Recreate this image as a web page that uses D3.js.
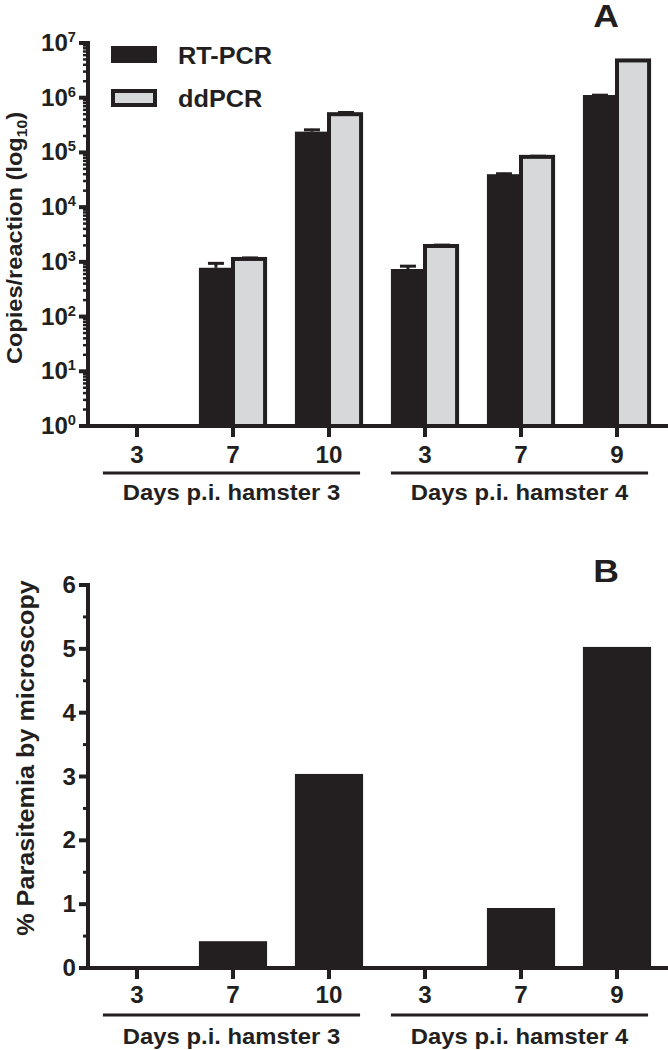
<!DOCTYPE html>
<html>
<head>
<meta charset="utf-8">
<script src="https://cdn.jsdelivr.net/npm/d3@7"></script>
<style>
  html, body { margin: 0; padding: 0; background: #fff; }
  svg { display: block; }
  text { font-family: "Liberation Sans", Arial, Helvetica, sans-serif; font-weight: bold; fill: #231f20; }
</style>
</head>
<body>
<div id="chart"></div>
<script>
// ---------- data ----------
const categories = ["h3-3", "h3-7", "h3-10", "h4-3", "h4-7", "h4-9"];
const dayLabels = ["3", "7", "10", "3", "7", "9"];
const groupNames = ["Days p.i. hamster 3", "Days p.i. hamster 4"];
const groupMembers = [["h3-3", "h3-7", "h3-10"], ["h4-3", "h4-7", "h4-9"]];
const seriesNames = ["RT-PCR", "ddPCR"];
const rtpcrValues = [0, 780, 240000, 740, 40000, 1120000];
const rtpcrErrors = [0, 200, 30000, 130, 2500, 40000];
const ddpcrValues = [0, 1130, 500000, 1950, 83000, 4800000];
const ddpcrErrors = [0, 100, 60000, 160, 6000, 0];
const logTicks = [1, 10, 100, 1000, 10000, 100000, 1000000, 10000000];
const parasitemia = [0, 0.42, 3.04, 0, 0.94, 5.03];
const parasitemiaTicks = [0, 1, 2, 3, 4, 5, 6];

// ---------- setup ----------
const W = 668, H = 1050;
const INK = "#231f20", GRAY = "#d7d8da";
const svg = d3.select("#chart").append("svg").attr("width", W).attr("height", H);

function label(parent, x, y, str, size, anchor, rot, sx) {
  return parent.append("text")
    .attr("transform", `translate(${x},${y}) rotate(${rot || 0}) scale(${sx || 1.05},1)`)
    .attr("text-anchor", anchor || "middle")
    .style("font-size", size + "px")
    .text(str);
}

const x0 = d3.scaleBand().domain(categories).range([89, 665]).paddingInner(0.29).paddingOuter(0.145);
const x1 = d3.scaleBand().domain(seriesNames).range([0, x0.bandwidth()]);

function xAxisParts(g, axisY, tickLabelY, underlineY, groupLabelY) {
  g.append("line").attr("x1", 86).attr("x2", 668).attr("y1", axisY).attr("y2", axisY)
    .attr("stroke", INK).attr("stroke-width", 4);
  const ax = d3.axisBottom(x0).tickSize(11).tickFormat("");
  const ag = g.append("g").attr("transform", `translate(0,${axisY})`).call(ax);
  ag.select(".domain").remove();
  ag.selectAll(".tick line").attr("stroke", INK).attr("stroke-width", 4);
  categories.forEach((c, i) => {
    label(g, x0(c) + x0.bandwidth() / 2, tickLabelY, dayLabels[i], 23, "middle", 0, 1.05);
  });
  groupMembers.forEach((mem, gi) => {
    const a = x0(mem[0]), b = x0(mem[mem.length - 1]) + x0.bandwidth() - 3;
    g.append("line").attr("x1", a).attr("x2", b).attr("y1", underlineY).attr("y2", underlineY)
      .attr("stroke", INK).attr("stroke-width", 3);
    label(g, (a + b) / 2, groupLabelY, groupNames[gi], 22.5, "middle", 0, 1.06);
  });
}

// ---------- Panel A ----------
const gA = svg.append("g");
const yA = d3.scaleLog().domain([1, 1e7]).range([426, 43]);

const rows = categories.map((c, i) => ({
  c,
  vals: [
    { s: "RT-PCR", v: rtpcrValues[i], e: rtpcrErrors[i] },
    { s: "ddPCR", v: ddpcrValues[i], e: ddpcrErrors[i] }
  ]
}));
rows.forEach(r => {
  r.vals.forEach(d => {
    if (d.v <= 1) return;
    const bx = x0(r.c) + x1(d.s), bw = x1.bandwidth();
    if (d.s === "RT-PCR") {
      gA.append("rect").attr("x", bx).attr("y", yA(d.v)).attr("width", bw + 1)
        .attr("height", yA(1) - yA(d.v)).attr("fill", INK);
    } else {
      gA.append("rect").attr("x", bx).attr("y", yA(d.v)).attr("width", bw - 2)
        .attr("height", yA(1) - yA(d.v)).attr("fill", GRAY).attr("stroke", INK).attr("stroke-width", 4);
    }
    if (d.e > 0) {
      const cx = bx + bw / 2, ytop = yA(d.v + d.e);
      gA.append("line").attr("x1", cx).attr("x2", cx).attr("y1", yA(d.v)).attr("y2", ytop)
        .attr("stroke", INK).attr("stroke-width", 3);
      gA.append("line").attr("x1", cx - 8).attr("x2", cx + 8).attr("y1", ytop + 1).attr("y2", ytop + 1)
        .attr("stroke", INK).attr("stroke-width", 3);
    }
  });
});

// y axis
gA.append("line").attr("x1", 88).attr("x2", 88).attr("y1", 41).attr("y2", 428)
  .attr("stroke", INK).attr("stroke-width", 4);
const minorA = [];
for (let e = 0; e < 7; e++) for (let m = 2; m <= 9; m++) minorA.push(m * Math.pow(10, e));
minorA.forEach(v => {
  gA.append("line").attr("x1", 83).attr("x2", 88).attr("y1", yA(v)).attr("y2", yA(v))
    .attr("stroke", INK).attr("stroke-width", 2.5);
});
logTicks.forEach(v => {
  gA.append("line").attr("x1", 79).attr("x2", 88).attr("y1", yA(v)).attr("y2", yA(v))
    .attr("stroke", INK).attr("stroke-width", 4);
  const t = label(gA, 76, yA(v) + 8, "", 23, "end", 0, 1.05);
  t.append("tspan").text("10");
  t.append("tspan").attr("dy", -9).style("font-size", "14px").text(Math.round(Math.log10(v)));
});

// y title
const tA = gA.append("text")
  .attr("transform", `translate(22,238) rotate(-90) scale(1.05,1)`)
  .attr("text-anchor", "middle").style("font-size", "22.5px");
tA.append("tspan").text("Copies/reaction (log");
tA.append("tspan").attr("dy", 5).style("font-size", "15px").text("10");
tA.append("tspan").attr("dy", -5).text(")");

xAxisParts(gA, 426, 463, 473, 500);

// legend
const legend = gA.append("g");
seriesNames.forEach((s, i) => {
  const ly = 46 + i * 43;
  if (i === 0) {
    legend.append("rect").attr("x", 111).attr("y", ly).attr("width", 46).attr("height", 17).attr("fill", INK);
  } else {
    legend.append("rect").attr("x", 113).attr("y", ly + 2).attr("width", 42).attr("height", 14)
      .attr("fill", GRAY).attr("stroke", INK).attr("stroke-width", 4);
  }
  label(legend, 178, ly + 18, s, 23, "start", 0, 1.1);
});

label(gA, 606, 27, "A", 31, "middle", 0, 1.15);

// ---------- Panel B ----------
const gB = svg.append("g");
const yB = d3.scaleLinear().domain([0, 6]).range([968, 585]);

categories.forEach((c, i) => {
  const v = parasitemia[i];
  if (v <= 0) return;
  gB.append("rect").attr("x", x0(c)).attr("y", yB(v)).attr("width", x0.bandwidth())
    .attr("height", yB(0) - yB(v)).attr("fill", INK);
});

gB.append("line").attr("x1", 88).attr("x2", 88).attr("y1", 583).attr("y2", 970)
  .attr("stroke", INK).attr("stroke-width", 4);
d3.range(0.5, 6, 1).forEach(v => {
  gB.append("line").attr("x1", 83).attr("x2", 88).attr("y1", yB(v)).attr("y2", yB(v))
    .attr("stroke", INK).attr("stroke-width", 3);
});
parasitemiaTicks.forEach(v => {
  gB.append("line").attr("x1", 79).attr("x2", 88).attr("y1", yB(v)).attr("y2", yB(v))
    .attr("stroke", INK).attr("stroke-width", 4);
  label(gB, 76, yB(v) + 8, String(v), 23, "end", 0, 1.05);
});

label(gB, 34, 758, "% Parasitemia by microscopy", 24, "middle", -90, 1.05);

xAxisParts(gB, 968, 1003, 1015, 1044);

label(gB, 606, 582, "B", 31, "middle", 0, 1.15);
</script>
</body>
</html>
